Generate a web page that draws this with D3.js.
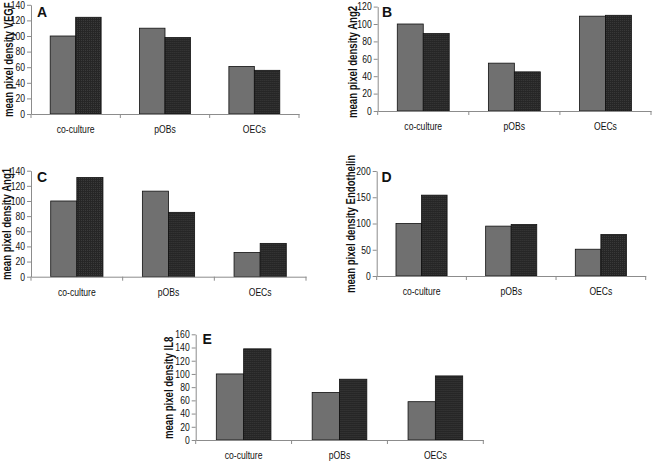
<!DOCTYPE html>
<html>
<head>
<meta charset="utf-8">
<script src="https://cdn.jsdelivr.net/npm/d3@7"></script>
<style>
  body { margin: 0; background: #fff; }
  svg { display: block; }
  .tick text { font-family: "Liberation Sans", Arial, sans-serif; fill: #111; }
  .ytitle { font-family: "Liberation Sans", Arial, sans-serif; font-weight: bold; font-size: 12px; fill: #111; }
  .letter { font-family: "Liberation Sans", Arial, sans-serif; font-weight: bold; font-size: 14px; fill: #111; }
</style>
</head>
<body>
<svg id="chart" width="652" height="461"></svg>
<script>
// categories shared by all five panels
var categories = ["co-culture", "pOBs", "OECs"];

// A - VEGF
var vegfGray = [100, 110, 61];
var vegfDark = [124, 98, 56];
var vegfTicks = [0, 20, 40, 60, 80, 100, 120, 140];
// B - Ang2
var ang2Gray = [100, 55, 109];
var ang2Dark = [89, 45, 110];
var ang2Ticks = [0, 20, 40, 60, 80, 100, 120];
// C - Ang1
var ang1Gray = [100, 113, 32];
var ang1Dark = [131, 85, 44];
var ang1Ticks = [0, 20, 40, 60, 80, 100, 120, 140];
// D - Endothelin
var endoGray = [100, 95, 51];
var endoDark = [154, 98, 79];
var endoTicks = [0, 50, 100, 150, 200];
// E - IL8
var il8Gray = [100, 72, 58];
var il8Dark = [138, 92, 97];
var il8Ticks = [0, 20, 40, 60, 80, 100, 120, 140, 160];

var panels = [
  {letter: "A", title: "mean pixel density VEGF", gray: vegfGray, dark: vegfDark, ticks: vegfTicks,
   x0: 31, x1: 299, y0: 114, yTop: 4.8, tx: 13, ty: 117, lx: 37, ly: 16.5},
  {letter: "B", title: "mean pixel density Ang2", gray: ang2Gray, dark: ang2Dark, ticks: ang2Ticks,
   x0: 377.7, x1: 651, y0: 111, yTop: 6.6, tx: 356.5, ty: 118, lx: 382, ly: 16.5},
  {letter: "C", title: "mean pixel density Ang1", gray: ang1Gray, dark: ang1Dark, ticks: ang1Ticks,
   x0: 31, x1: 306, y0: 276.7, yTop: 170.7, tx: 11, ty: 280, lx: 37, ly: 181.5},
  {letter: "D", title: "mean pixel density Endothelin", gray: endoGray, dark: endoDark, ticks: endoTicks,
   x0: 376.7, x1: 645.7, y0: 276, yTop: 171, tx: 354.5, ty: 293, lx: 381.5, ly: 181.5},
  {letter: "E", title: "mean pixel density IL8", gray: il8Gray, dark: il8Dark, ticks: il8Ticks,
   x0: 195.7, x1: 483.3, y0: 440, yTop: 334.3, tx: 172.5, ty: 439, lx: 202.5, ly: 344}
];

// the original uses a narrow face; squeeze Liberation Sans horizontally
var narrow = 0.82;
var narrowTitle = 0.8;

var svg = d3.select("#chart");

// fine dotted texture of the dark bars
var pat = svg.append("defs").append("pattern")
  .attr("id", "darkfill")
  .attr("width", 2).attr("height", 2)
  .attr("patternUnits", "userSpaceOnUse");
pat.append("rect").attr("width", 2).attr("height", 2).attr("fill", "#262626");
pat.append("rect").attr("width", 1).attr("height", 1).attr("fill", "#3a3a3a");

var axisColor = "#8c8c8c";

panels.forEach(function(p) {
  var g = svg.append("g").attr("class", "panel");
  var maxTick = p.ticks[p.ticks.length - 1];

  var y = d3.scaleLinear().domain([0, maxTick]).range([p.y0, p.yTop]);
  var x = d3.scaleBand().domain(categories).range([p.x0, p.x1]);
  var bw = x.bandwidth();
  var x1 = d3.scaleBand().domain(["gray", "dark"]).range([bw * 0.215, bw * 0.785]);

  var rows = categories.map(function(c, i) {
    return {cat: c, values: [{key: "gray", v: p.gray[i]}, {key: "dark", v: p.dark[i]}]};
  });

  var groups = g.selectAll(".cat")
    .data(rows)
    .enter()
    .append("g")
    .attr("class", "cat")
    .attr("transform", function(d) { return "translate(" + x(d.cat) + ",0)"; });

  groups.selectAll("rect")
    .data(function(d) { return d.values; })
    .enter()
    .append("rect")
    .attr("x", function(d) { return x1(d.key); })
    .attr("y", function(d) { return y(d.v); })
    .attr("width", x1.bandwidth())
    .attr("height", function(d) { return y(0) - y(d.v); })
    .attr("fill", function(d) { return d.key == "gray" ? "#707070" : "url(#darkfill)"; })
    .attr("stroke", "#111")
    .attr("stroke-width", 0.8);

  // y axis
  var yAxis = g.append("g")
    .attr("transform", "translate(" + p.x0 + ",0)")
    .call(d3.axisLeft(y).tickValues(p.ticks).tickSize(4).tickSizeOuter(0).tickPadding(2));
  yAxis.selectAll("text")
    .style("font-size", "10.5px")
    .attr("x", 0)
    .attr("transform", "translate(-6,0) scale(" + narrow + ",1)");

  // x axis: labels at band centres, tick marks at band edges
  var xAxis = g.append("g")
    .attr("transform", "translate(0," + p.y0 + ")")
    .call(d3.axisBottom(x).tickSize(0).tickSizeOuter(0).tickPadding(12));
  xAxis.selectAll("text")
    .style("font-size", "10.5px")
    .attr("transform", "scale(" + narrow + ",1)");

  var edges = categories.map(function(c) { return x(c); }).concat([x(categories[2]) + bw]);
  g.selectAll(".edge")
    .data(edges)
    .enter()
    .append("line")
    .attr("class", "edge")
    .attr("x1", function(d) { return d; })
    .attr("x2", function(d) { return d; })
    .attr("y1", p.y0)
    .attr("y2", p.y0 + 4)
    .attr("stroke", axisColor);

  g.selectAll(".domain, .tick line").attr("stroke", axisColor);

  g.append("text")
    .attr("class", "ytitle")
    .attr("transform", "translate(" + p.tx + "," + p.ty + ") rotate(-90) scale(" + narrowTitle + ",1)")
    .text(p.title);

  g.append("text")
    .attr("class", "letter")
    .attr("x", p.lx)
    .attr("y", p.ly)
    .text(p.letter);
});
</script>
</body>
</html>
